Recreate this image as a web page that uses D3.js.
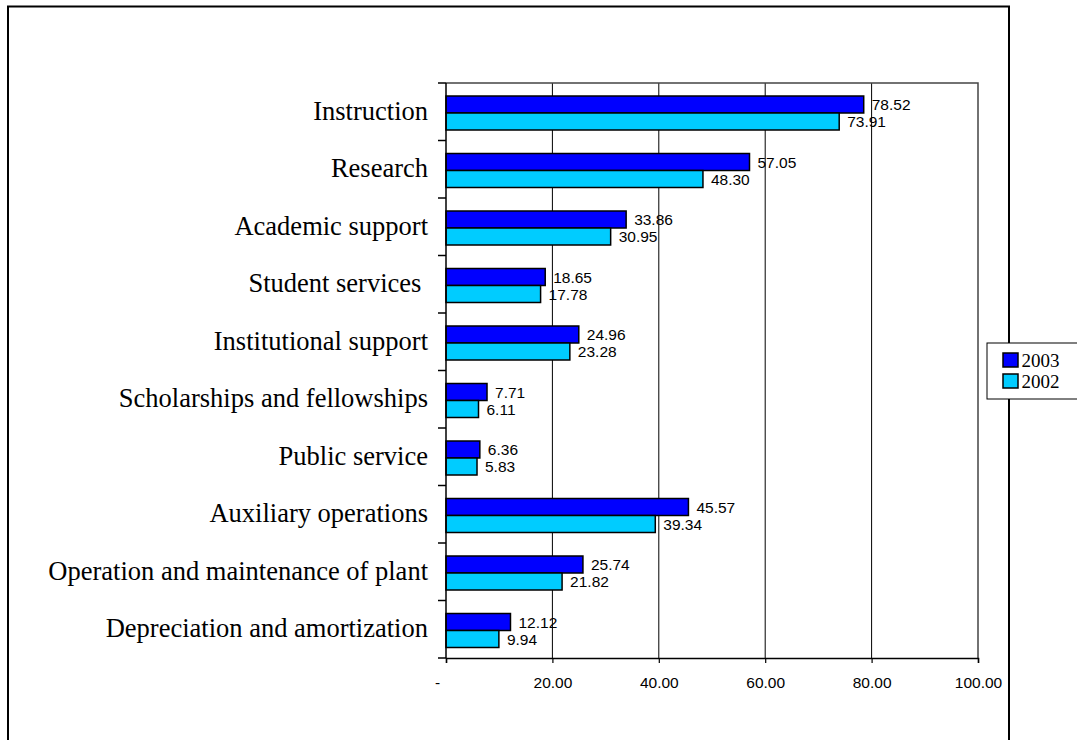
<!DOCTYPE html>
<html>
<head>
<meta charset="utf-8">
<script src="https://cdn.jsdelivr.net/npm/d3@7"></script>
<style>
  html, body { margin: 0; padding: 0; background: #fff; }
  svg { display: block; }
</style>
</head>
<body>
<svg id="chart" width="1077" height="740"></svg>
<script>
// Expenses per category, two fiscal years
const categories = [
  "Instruction",
  "Research",
  "Academic support",
  "Student services ",
  "Institutional support",
  "Scholarships and fellowships",
  "Public service",
  "Auxiliary operations",
  "Operation and maintenance of plant",
  "Depreciation and amortization"
];
const values2003 = [78.52, 57.05, 33.86, 18.65, 24.96, 7.71, 6.36, 45.57, 25.74, 12.12];
const values2002 = [73.91, 48.30, 30.95, 17.78, 23.28, 6.11, 5.83, 39.34, 21.82, 9.94];
const seriesNames = ["2003", "2002"];
const seriesColors = ["#0000FF", "#00CCFF"];
const xTicks = [0, 20, 40, 60, 80, 100];

const svg = d3.select("#chart");

// Plot area
const plot = { left: 446, right: 978, top: 83, bottom: 658 };

const x = d3.scaleLinear().domain([0, 100]).range([plot.left, plot.right]);
const y = d3.scaleBand().domain(categories).range([plot.top, plot.bottom]);
const sub = d3.scaleBand().domain(seriesNames).range([13, 47]);

const rows = categories.map((c, i) => ({ cat: c, vals: [values2003[i], values2002[i]] }));

// Outer chart frame
svg.append("rect")
  .attr("x", 8).attr("y", 6.5)
  .attr("width", 1001).attr("height", 780)
  .attr("fill", "#fff")
  .attr("stroke", "#000")
  .attr("stroke-width", 2);

// Vertical gridlines
svg.append("g")
  .selectAll("line")
  .data(xTicks.filter(t => t > 0 && t < 100))
  .join("line")
  .attr("x1", d => x(d)).attr("x2", d => x(d))
  .attr("y1", plot.top).attr("y2", plot.bottom)
  .attr("stroke", "#000")
  .attr("stroke-width", 1);

// Plot area border (top and right)
svg.append("path")
  .attr("d", `M${x(0)},${plot.top}H${x(100)}V${plot.bottom}`)
  .attr("fill", "none")
  .attr("stroke", "#444")
  .attr("stroke-width", 1.5);

// Bars
const groups = svg.append("g")
  .selectAll("g")
  .data(rows)
  .join("g")
  .attr("transform", d => `translate(0,${y(d.cat)})`);

groups.selectAll("rect")
  .data(d => d.vals.map((v, j) => ({ v, s: seriesNames[j], c: seriesColors[j] })))
  .join("rect")
  .attr("x", x(0))
  .attr("y", d => sub(d.s))
  .attr("width", d => x(d.v) - x(0))
  .attr("height", sub.bandwidth())
  .attr("fill", d => d.c)
  .attr("stroke", "#000")
  .attr("stroke-width", 1.5);

// Value labels
groups.selectAll("text")
  .data(d => d.vals.map((v, j) => ({ v, s: seriesNames[j] })))
  .join("text")
  .attr("x", d => x(d.v) + 8)
  .attr("y", d => sub(d.s) + sub.bandwidth() / 2)
  .attr("dy", "0.36em")
  .attr("font-family", "'Liberation Sans', Arial, sans-serif")
  .attr("font-size", "15.5px")
  .attr("fill", "#000")
  .text(d => d3.format(".2f")(d.v));

// Category axis: line, boundary ticks, labels
const catAxis = svg.append("g");
catAxis.append("line")
  .attr("x1", plot.left).attr("x2", plot.left)
  .attr("y1", plot.top).attr("y2", plot.bottom)
  .attr("stroke", "#000").attr("stroke-width", 1.5);
catAxis.selectAll("line.tick")
  .data(categories.map(c => y(c)).concat([plot.bottom]))
  .join("line")
  .attr("class", "tick")
  .attr("x1", plot.left - 8).attr("x2", plot.left)
  .attr("y1", d => d).attr("y2", d => d)
  .attr("stroke", "#000").attr("stroke-width", 1.5);
catAxis.selectAll("text")
  .data(categories)
  .join("text")
  .attr("x", plot.left - 18)
  .attr("y", d => y(d) + y.bandwidth() / 2 + 8)
  .attr("text-anchor", "end")
  .style("white-space", "pre")
  .attr("font-family", "'Liberation Serif', 'Times New Roman', serif")
  .attr("font-size", "26.5px")
  .attr("fill", "#000")
  .text(d => d);

// Value axis
const xAxis = d3.axisBottom(x)
  .tickValues(xTicks)
  .tickSize(5)
  .tickPadding(14)
  .tickFormat(d => d === 0 ? "-" : d3.format(".2f")(d));

const gx = svg.append("g")
  .attr("transform", `translate(0,${plot.bottom})`)
  .call(xAxis);
gx.select(".domain").attr("stroke", "#000").attr("stroke-width", 1.5);
gx.selectAll(".tick line").attr("stroke", "#000").attr("stroke-width", 1.2);
gx.selectAll(".tick text")
  .attr("font-family", "'Liberation Sans', Arial, sans-serif")
  .attr("font-size", "15.5px")
  .attr("fill", "#000")
  .attr("dx", d => d === 0 ? -9 : 0);

// Legend
const legend = svg.append("g");
legend.append("rect")
  .attr("x", 987).attr("y", 343)
  .attr("width", 120).attr("height", 56)
  .attr("fill", "#fff")
  .attr("stroke", "#000")
  .attr("stroke-width", 1);
const legendRows = legend.selectAll("g.item")
  .data(seriesNames)
  .join("g")
  .attr("class", "item")
  .attr("transform", (d, i) => `translate(1003,${353 + i * 21})`);
legendRows.append("rect")
  .attr("width", 15).attr("height", 14)
  .attr("fill", (d, i) => seriesColors[i])
  .attr("stroke", "#000")
  .attr("stroke-width", 1.5);
legendRows.append("text")
  .attr("x", 18.5).attr("y", 14)
  .attr("font-family", "'Liberation Serif', 'Times New Roman', serif")
  .attr("font-size", "19px")
  .attr("fill", "#000")
  .text(d => d);
</script>
</body>
</html>
